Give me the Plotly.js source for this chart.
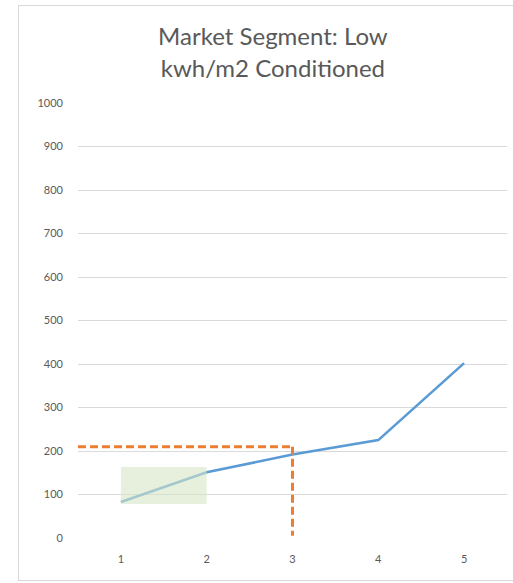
<!DOCTYPE html>
<html>
<head>
<meta charset="utf-8">
<script src="https://cdn.plot.ly/plotly-3.0.1.min.js"></script>
<style>
  html, body { margin: 0; padding: 0; background: #fff; }
  #wrap { position: relative; width: 513px; height: 583px; overflow: hidden; }
  #frame { position: absolute; left: 18px; top: 5px; width: 520px; height: 576px; border: 1.5px solid #d9d9d9; box-sizing: border-box; }
  #chart { position: absolute; left: 0; top: 0; width: 513px; height: 583px; }
</style>
</head>
<body>
<div id="wrap">
  <div id="frame"></div>
  <div id="chart"></div>
</div>
<script>
// Data
const categories = [1, 2, 3, 4, 5];
const values = [83, 151, 192, 225, 402];
const yTicks = [0, 100, 200, 300, 400, 500, 600, 700, 800, 900, 1000];
const targetX = 3;
const targetY = 210;
const targetLineStartX = 0.5;
const targetLineFloorY = 5;
const highlightX = [1, 2];
const highlightY = [78, 163];

const traces = [
  {
    x: categories, y: values, type: 'scatter', mode: 'lines',
    line: { color: '#5B9BD5', width: 2.6 }, hoverinfo: 'skip'
  },
  {
    x: [highlightX[0], highlightX[1], highlightX[1], highlightX[0], highlightX[0]],
    y: [highlightY[0], highlightY[0], highlightY[1], highlightY[1], highlightY[0]],
    type: 'scatter', mode: 'lines', fill: 'toself',
    fillcolor: 'rgba(214,230,198,0.6)', line: { width: 0 }, hoverinfo: 'skip'
  },
  {
    x: [targetLineStartX, targetX], y: [targetY, targetY],
    type: 'scatter', mode: 'lines',
    line: { color: '#ED7D31', width: 3, dash: '8px,4px' }, hoverinfo: 'skip'
  },
  {
    x: [targetX, targetX], y: [targetY, targetLineFloorY],
    type: 'scatter', mode: 'lines',
    line: { color: '#ED7D31', width: 3, dash: '8px,4px' }, hoverinfo: 'skip'
  }
];

const layout = {
  width: 513, height: 583,
  margin: { l: 78, r: 6, t: 103, b: 45 },
  paper_bgcolor: 'rgba(0,0,0,0)',
  plot_bgcolor: 'rgba(0,0,0,0)',
  showlegend: false,
  font: { family: 'Lato, "Liberation Sans", sans-serif', color: '#595959' },
  title: {
    text: 'Market Segment: Low<br>kwh/m2 Conditioned',
    font: { size: 24, color: '#595959', family: 'Lato, "Liberation Sans", sans-serif' },
    xref: 'container', x: 0.532, xanchor: 'center',
    yref: 'container', y: 0.922, yanchor: 'middle'
  },
  xaxis: {
    range: [0.5, 5.5], tickvals: categories, ticktext: categories.map(String),
    showgrid: false, zeroline: false, showline: false, ticks: '',
    tickfont: { size: 11, color: '#595959' }, ticklabelstandoff: 13, fixedrange: true
  },
  yaxis: {
    range: [0, 1000], tickvals: yTicks, ticktext: yTicks.map(String),
    showgrid: true, gridcolor: '#D9D9D9', gridwidth: 1,
    zeroline: false, showline: false, ticks: '',
    tickfont: { size: 11, color: '#595959' }, ticklabelstandoff: 14, fixedrange: true
  }
};

Plotly.newPlot('chart', traces, layout, { displayModeBar: false, staticPlot: true });
</script>
</body>
</html>
